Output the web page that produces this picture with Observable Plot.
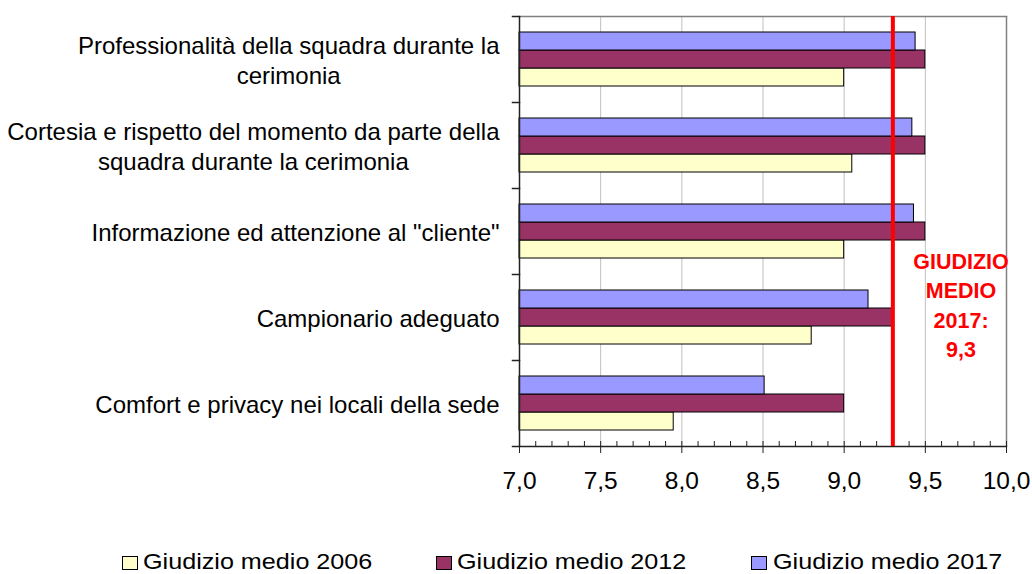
<!DOCTYPE html>
<html>
<head>
<meta charset="utf-8">
<script src="https://cdn.jsdelivr.net/npm/d3@7"></script>
<script src="https://cdn.jsdelivr.net/npm/@observablehq/plot@0.6"></script>
<style>
  html, body { margin: 0; padding: 0; background: #fff; }
  #wrap { position: relative; width: 1032px; height: 574px; overflow: hidden; font-family: "Liberation Sans", Arial, sans-serif; }
  .lg-box { position: absolute; width: 14px; height: 12px; border: 1px solid #000; box-sizing: content-box; }
  .lg-text { position: absolute; font-size: 21.5px; line-height: 21px; color: #000; white-space: nowrap; transform: scaleX(1.17); transform-origin: left center; }
</style>
</head>
<body>
<div id="wrap"></div>
<script>
// ---- data ----
const categories = [
  "Professionalità della squadra durante la\ncerimonia",
  "Cortesia e rispetto del momento da parte della\nsquadra durante la cerimonia",
  "Informazione ed attenzione al \"cliente\"",
  "Campionario adeguato",
  "Comfort e privacy nei locali della sede"
];
const seriesNames = ["Giudizio medio 2006", "Giudizio medio 2012", "Giudizio medio 2017"];
const values2006 = [9.0, 9.05, 9.0, 8.8, 7.95];
const values2012 = [9.5, 9.5, 9.5, 9.3, 9.0];
const values2017 = [9.44, 9.42, 9.43, 9.15, 8.51];
const seriesColors = ["#FFFFCC", "#993366", "#9999FF"];
const xDomain = [7.0, 10.0];
const xTicks = [7.0, 7.5, 8.0, 8.5, 9.0, 9.5, 10.0];
const minorTicks = [7.0,7.1,7.2,7.3,7.4,7.5,7.6,7.7,7.8,7.9,8.0,8.1,8.2,8.3,8.4,8.5,8.6,8.7,8.8,8.9,9.0,9.1,9.2,9.3,9.4,9.5,9.6,9.7,9.8,9.9,10.0];
const average2017 = 9.3;
const averageLabelLines = ["GIUDIZIO", "MEDIO", "2017:"];
const averageLabelX = 9.72;
const averageLabelCategory = categories[3];

// ---- table ----
const valuesBySeries = [values2006, values2012, values2017];
const table = [];
categories.forEach((c, i) => {
  seriesNames.forEach((s, j) => table.push({category: c, series: s, value: valuesBySeries[j][i]}));
});

const fmt = d => d.toFixed(1).replace(".", ",");
const FONT = "\"Liberation Sans\", Arial, sans-serif";
const LABEL_SIZE = 24;

const W = 1032, H = 520, mL = 519, mR = 26, mT = 15, mB = 73;
const innerW = W - mL - mR;

// measure label widths
const ctx = document.createElement("canvas").getContext("2d");
ctx.font = `${LABEL_SIZE}px ${FONT}`;
const labelWidth = c => Math.max(...c.split("\n").map(l => ctx.measureText(l).width));

const labelMarks = categories.map(c => Plot.text([c], {
  fy: d => d, text: d => d, frameAnchor: "left", textAnchor: "middle",
  dx: -20 - labelWidth(c) / 2, lineHeight: 1.27, fontSize: LABEL_SIZE, fill: "#000"
}));

const chart = Plot.plot({
  width: W, height: H,
  marginLeft: mL, marginRight: mR, marginTop: mT, marginBottom: mB,
  style: {fontFamily: FONT, fontSize: "24px", color: "#000", background: "#fff"},
  x: {domain: xDomain, axis: null},
  y: {domain: [...seriesNames].reverse(), paddingInner: 0, paddingOuter: 0.77, axis: null},
  fy: {domain: categories, padding: 0, axis: null},
  color: {domain: seriesNames, range: seriesColors},
  marks: [
    Plot.gridX(xTicks, {stroke: "#c0c0c0", strokeOpacity: 1}),
    Plot.barX(table, {fy: "category", y: "series", x1: xDomain[0], x2: "value", fill: "series", stroke: "#000", strokeWidth: 1}),
    Plot.ruleX([xDomain[1]], {stroke: "#808080", strokeWidth: 1.5}),
    Plot.frame({anchor: "top", facetAnchor: "top", stroke: "#808080", strokeWidth: 1.5}),
    Plot.ruleX([xDomain[0]], {stroke: "#222", strokeWidth: 1.5}),
    Plot.frame({anchor: "bottom", facetAnchor: "bottom", stroke: "#222", strokeWidth: 1.5}),
    Plot.frame({anchor: "top", insetLeft: -7, insetRight: innerW, stroke: "#222", strokeWidth: 1.5}),
    Plot.frame({anchor: "bottom", facetAnchor: "bottom", insetLeft: -7, insetRight: innerW, stroke: "#222", strokeWidth: 1.5}),
    Plot.axisX(minorTicks, {tickSize: 5, dy: -5, fill: "none", stroke: "#222", label: null}),
    Plot.axisX(xTicks, {tickSize: 7, tickPadding: 18, tickFormat: fmt, fontSize: 24.5, stroke: "#222", label: null}),
    Plot.ruleX([average2017], {stroke: "#ff0000", strokeWidth: 4}),
    ...labelMarks,
    Plot.text([[...averageLabelLines, fmt(average2017)].join("\n")], {
      fy: () => averageLabelCategory, x: averageLabelX, frameAnchor: "middle", dy: -14,
      text: d => d, fill: "#ff0000", fontWeight: "bold", fontSize: 21.5, lineHeight: 1.38, textAnchor: "middle"
    })
  ]
});

const wrap = document.getElementById("wrap");
wrap.appendChild(chart);

// ---- legend ----
const legendBoxX = [122, 436, 751];
const legendTextX = [143, 457, 773];
seriesNames.forEach((s, i) => {
  const b = document.createElement("div");
  b.className = "lg-box";
  b.style.left = legendBoxX[i] + "px";
  b.style.top = "556px";
  b.style.background = seriesColors[i];
  wrap.appendChild(b);
  const t = document.createElement("div");
  t.className = "lg-text";
  t.style.left = legendTextX[i] + "px";
  t.style.top = "552px";
  t.textContent = s;
  wrap.appendChild(t);
});
</script>
</body>
</html>
